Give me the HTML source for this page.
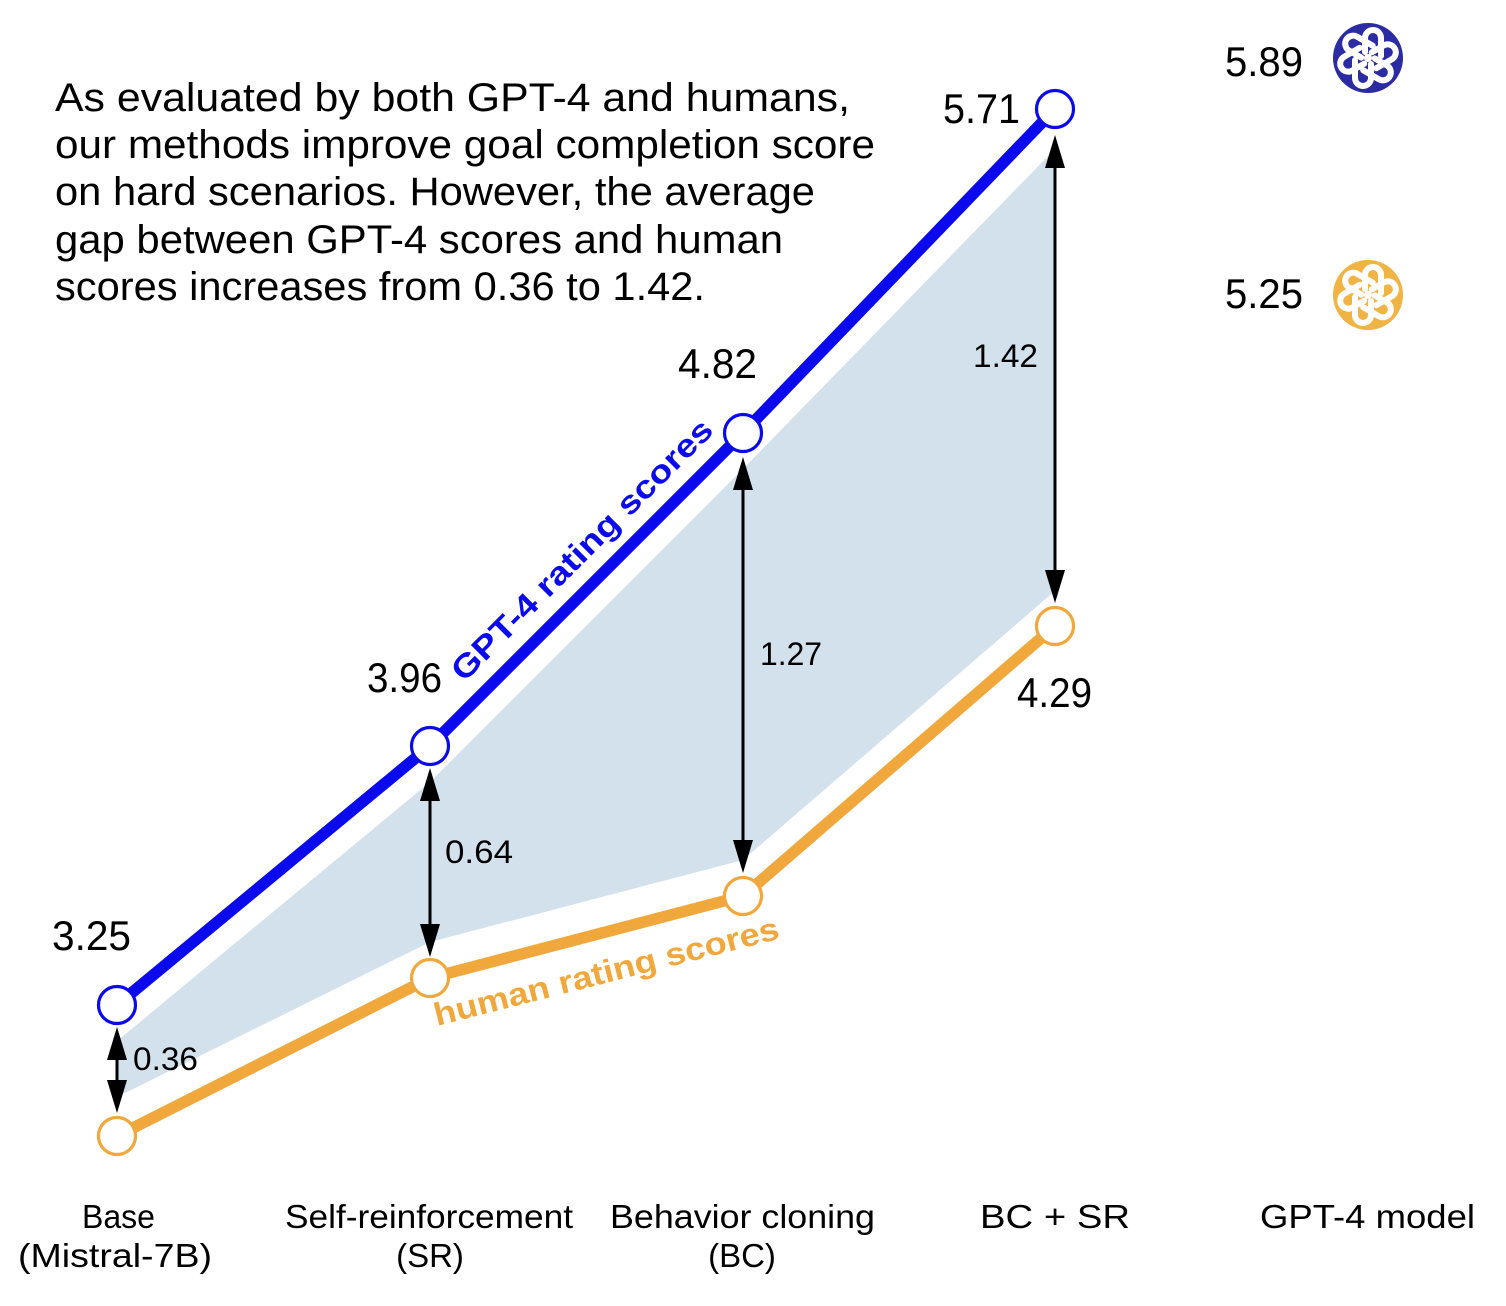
<!DOCTYPE html>
<html>
<head>
<meta charset="utf-8">
<style>
  html, body { margin:0; padding:0; background:#ffffff; }
  svg { display:block; }
  text { font-family: "Liberation Sans", "DejaVu Sans", sans-serif; fill:#000; }
</style>
</head>
<body>
<svg width="1506" height="1306" viewBox="0 0 1506 1306" xmlns="http://www.w3.org/2000/svg">
  <rect x="0" y="0" width="1506" height="1306" fill="#ffffff"/>

  <!-- shaded gap region -->
  <polygon points="117,1041 430,782 743,469 1054,150 1056,150 1056,590 743,860 430,942 117,1097"
           fill="#d3e1ec" stroke="none"/>

  <!-- lines -->
  <polyline points="117,1005 430,746 743,433 1055,109" fill="none" stroke="#0a0aec" stroke-width="11.5" stroke-linejoin="round"/>
  <polyline points="117,1136 430,978 743,896 1055,626" fill="none" stroke="#f0a83c" stroke-width="11.5" stroke-linejoin="round"/>

  <!-- arrows -->
  <g fill="#000" stroke="none">
    <rect x="115.5" y="1055" width="3" height="30"/>
    <polygon points="117,1027 107,1060 127,1060"/>
    <polygon points="117,1113 107,1080 127,1080"/>
    <rect x="428.5" y="795" width="3" height="135"/>
    <polygon points="430,768 420,801 440,801"/>
    <polygon points="430,957 420,924 440,924"/>
    <rect x="741.5" y="485" width="3" height="360"/>
    <polygon points="743,457 733,490 753,490"/>
    <polygon points="743,873 733,840 753,840"/>
    <rect x="1053.5" y="162" width="3" height="414"/>
    <polygon points="1055,135 1045,168 1065,168"/>
    <polygon points="1055,603 1045,570 1065,570"/>
  </g>

  <!-- markers -->
  <g fill="#ffffff" stroke="#0a0aec" stroke-width="3.2">
    <circle cx="117" cy="1005" r="18.5"/>
    <circle cx="430" cy="746" r="18.5"/>
    <circle cx="743" cy="433" r="18.5"/>
    <circle cx="1055" cy="109" r="18.5"/>
  </g>
  <g fill="#ffffff" stroke="#f0a83c" stroke-width="3.2">
    <circle cx="117" cy="1136" r="18.5"/>
    <circle cx="430" cy="978" r="18.5"/>
    <circle cx="743" cy="896" r="18.5"/>
    <circle cx="1055" cy="626" r="18.5"/>
  </g>

  <!-- rotated series labels -->
  <text transform="translate(464,683) rotate(-45)" font-size="32" font-weight="bold" style="fill:#0a0aec" textLength="355" lengthAdjust="spacingAndGlyphs">GPT-4 rating scores</text>
  <text transform="translate(437,1026) rotate(-14.3)" font-size="32" font-weight="bold" style="fill:#f0a83c" textLength="355" lengthAdjust="spacingAndGlyphs">human rating scores</text>

  <!-- body text -->
  <g font-size="40">
    <text x="55" y="111" textLength="795" lengthAdjust="spacingAndGlyphs">As evaluated by both GPT-4 and humans,</text>
    <text x="55" y="158" textLength="820" lengthAdjust="spacingAndGlyphs">our methods improve goal completion score</text>
    <text x="55" y="205" textLength="760" lengthAdjust="spacingAndGlyphs">on hard scenarios. However, the average</text>
    <text x="55" y="253" textLength="728" lengthAdjust="spacingAndGlyphs">gap between GPT-4 scores and human</text>
    <text x="55" y="300" textLength="650" lengthAdjust="spacingAndGlyphs">scores increases from 0.36 to 1.42.</text>
  </g>

  <!-- value labels -->
  <g font-size="42">
    <text x="52" y="950" textLength="79" lengthAdjust="spacingAndGlyphs">3.25</text>
    <text x="367" y="692" textLength="75" lengthAdjust="spacingAndGlyphs">3.96</text>
    <text x="678" y="378" textLength="79" lengthAdjust="spacingAndGlyphs">4.82</text>
    <text x="943" y="123" textLength="77" lengthAdjust="spacingAndGlyphs">5.71</text>
    <text x="1017" y="707" textLength="75" lengthAdjust="spacingAndGlyphs">4.29</text>
    <text x="1225" y="76" textLength="78" lengthAdjust="spacingAndGlyphs">5.89</text>
    <text x="1225" y="308" textLength="78" lengthAdjust="spacingAndGlyphs">5.25</text>
  </g>

  <!-- gap labels -->
  <g font-size="32">
    <text x="133" y="1070" textLength="65" lengthAdjust="spacingAndGlyphs">0.36</text>
    <text x="445" y="863" textLength="68" lengthAdjust="spacingAndGlyphs">0.64</text>
    <text x="760" y="665" textLength="62" lengthAdjust="spacingAndGlyphs">1.27</text>
    <text x="973" y="367" textLength="65" lengthAdjust="spacingAndGlyphs">1.42</text>
  </g>

  <!-- x labels -->
  <g font-size="33">
    <text x="82" y="1228" textLength="73" lengthAdjust="spacingAndGlyphs">Base</text>
    <text x="18" y="1267" textLength="194" lengthAdjust="spacingAndGlyphs">(Mistral-7B)</text>
    <text x="285" y="1228" textLength="288" lengthAdjust="spacingAndGlyphs">Self-reinforcement</text>
    <text x="430" y="1267" text-anchor="middle">(SR)</text>
    <text x="610" y="1228" textLength="265" lengthAdjust="spacingAndGlyphs">Behavior cloning</text>
    <text x="742" y="1267" text-anchor="middle">(BC)</text>
    <text x="980" y="1228" textLength="150" lengthAdjust="spacingAndGlyphs">BC + SR</text>
    <text x="1260" y="1228" textLength="215" lengthAdjust="spacingAndGlyphs">GPT-4 model</text>
  </g>

  <!-- OpenAI-like logos: solid disc with white swirl bands -->
  <g transform="translate(1368,58)">
    <circle cx="0" cy="0" r="35" fill="#2b2ba3"/>
    <g fill="none" stroke="#ffffff" stroke-width="6" stroke-linecap="round">
      <path d="M -3 -6 L -3 -20 A 8 8 0 0 1 13 -20 L 13 -2" transform="rotate(0)"/>
      <path d="M -3 -6 L -3 -20 A 8 8 0 0 1 13 -20 L 13 -2" transform="rotate(60)"/>
      <path d="M -3 -6 L -3 -20 A 8 8 0 0 1 13 -20 L 13 -2" transform="rotate(120)"/>
      <path d="M -3 -6 L -3 -20 A 8 8 0 0 1 13 -20 L 13 -2" transform="rotate(180)"/>
      <path d="M -3 -6 L -3 -20 A 8 8 0 0 1 13 -20 L 13 -2" transform="rotate(240)"/>
      <path d="M -3 -6 L -3 -20 A 8 8 0 0 1 13 -20 L 13 -2" transform="rotate(300)"/>
    </g>
    <circle cx="0" cy="0" r="4" fill="#ffffff"/>
  </g>
  <g transform="translate(1368,295)">
    <circle cx="0" cy="0" r="35" fill="#f0b444"/>
    <g fill="none" stroke="#ffffff" stroke-width="6" stroke-linecap="round">
      <path d="M -3 -6 L -3 -20 A 8 8 0 0 1 13 -20 L 13 -2" transform="rotate(0)"/>
      <path d="M -3 -6 L -3 -20 A 8 8 0 0 1 13 -20 L 13 -2" transform="rotate(60)"/>
      <path d="M -3 -6 L -3 -20 A 8 8 0 0 1 13 -20 L 13 -2" transform="rotate(120)"/>
      <path d="M -3 -6 L -3 -20 A 8 8 0 0 1 13 -20 L 13 -2" transform="rotate(180)"/>
      <path d="M -3 -6 L -3 -20 A 8 8 0 0 1 13 -20 L 13 -2" transform="rotate(240)"/>
      <path d="M -3 -6 L -3 -20 A 8 8 0 0 1 13 -20 L 13 -2" transform="rotate(300)"/>
    </g>
    <circle cx="0" cy="0" r="4" fill="#ffffff"/>
  </g>
</svg>
</body>
</html>
